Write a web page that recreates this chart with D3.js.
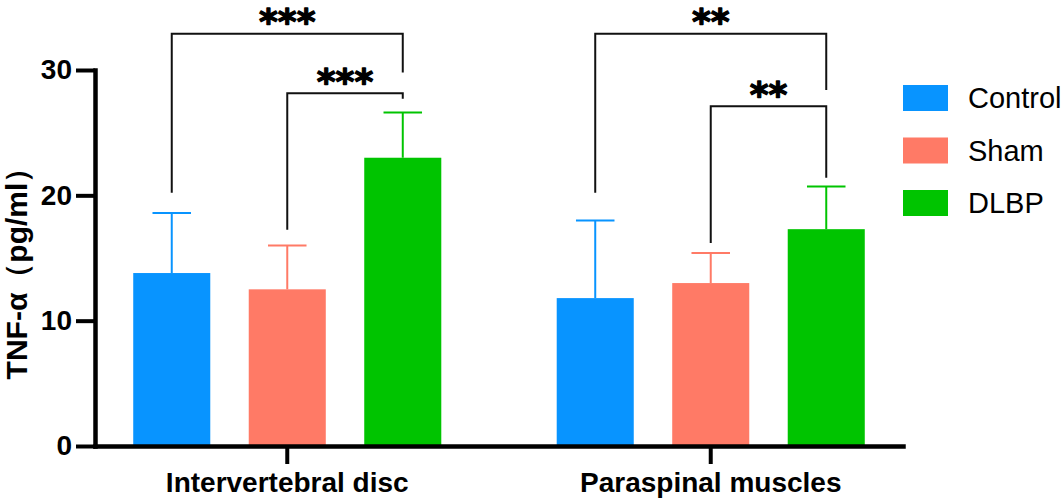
<!DOCTYPE html>
<html>
<head>
<meta charset="utf-8">
<script src="https://cdn.jsdelivr.net/npm/d3@7"></script>
<style>
    body { margin: 0; background: #fff; }
    svg { display: block; font-family: "Liberation Sans", Arial, sans-serif; }
</style>
</head>
<body>
<svg id="chart" width="1063" height="498"></svg>
<script>
// TNF-alpha bar chart, two tissues x three groups

const groups = ['Intervertebral disc', 'Paraspinal muscles'];
const series = ['Control', 'Sham', 'DLBP'];
const colors = ['#0894ff', '#ff7a66', '#00c400'];

// mean and SD per series, one value per group
const controlMean = [13.8, 11.8];
const shamMean = [12.5, 13.0];
const dlbpMean = [23.0, 17.3];
const controlSd = [4.8, 6.2];
const shamSd = [3.5, 2.4];
const dlbpSd = [3.6, 3.4];

const yTicks = [0, 10, 20, 30];

// significance brackets, levels in data units
const brackets = [
    { group: 0, from: 0, to: 2, top: 32.9, fromEnd: 20.2, toEnd: 29.8, label: '***' },
    { group: 0, from: 1, to: 2, top: 28.15, fromEnd: 17.25, toEnd: 27.7, label: '***' },
    { group: 1, from: 0, to: 2, top: 32.9, fromEnd: 20.2, toEnd: 28.4, label: '**' },
    { group: 1, from: 1, to: 2, top: 27.1, fromEnd: 16.2, toEnd: 21.4, label: '**' }
];

const means = [controlMean, shamMean, dlbpMean];
const sds = [controlSd, shamSd, dlbpSd];

const svg = d3.select('#chart');

const x0 = d3.scaleBand()
    .domain(groups)
    .range([95, 903])
    .paddingInner(0.2)
    .paddingOuter(0.054);

const x1 = d3.scaleBand()
    .domain(series)
    .range([0, x0.bandwidth()])
    .paddingInner(0.333)
    .paddingOuter(0.133);

const y = d3.scaleLinear()
    .domain([0, 30])
    .range([446, 70]);

const color = d3.scaleOrdinal().domain(series).range(colors);

// flatten into bar records
const bars = [];
groups.forEach((g, gi) => {
    series.forEach((s, si) => {
        bars.push({ group: g, series: s, mean: means[si][gi], sd: sds[si][gi] });
    });
});

const barX = d => x0(d.group) + x1(d.series);

// bars
svg.append('g')
    .selectAll('rect')
    .data(bars)
    .enter()
    .append('rect')
    .attr('x', barX)
    .attr('y', d => y(d.mean))
    .attr('width', x1.bandwidth())
    .attr('height', d => y(0) - y(d.mean))
    .attr('fill', d => color(d.series));

// error bars (upper only)
const capW = x1.bandwidth() / 2;
const err = svg.append('g')
    .selectAll('g')
    .data(bars)
    .enter()
    .append('g')
    .attr('stroke', d => color(d.series))
    .attr('stroke-width', 2);

err.append('line')
    .attr('x1', d => barX(d) + x1.bandwidth() / 2)
    .attr('x2', d => barX(d) + x1.bandwidth() / 2)
    .attr('y1', d => y(d.mean))
    .attr('y2', d => y(d.mean + d.sd));

err.append('line')
    .attr('x1', d => barX(d) + x1.bandwidth() / 2 - capW / 2)
    .attr('x2', d => barX(d) + x1.bandwidth() / 2 + capW / 2)
    .attr('y1', d => y(d.mean + d.sd))
    .attr('y2', d => y(d.mean + d.sd));

// axes
const yAxis = svg.append('g')
    .attr('transform', 'translate(95,0)')
    .call(d3.axisLeft(y).tickValues(yTicks).tickSize(19).tickSizeOuter(0).tickPadding(4));

const xAxis = svg.append('g')
    .attr('transform', `translate(0,${y(0)})`)
    .call(d3.axisBottom(x0).tickSize(18).tickSizeOuter(0).tickPadding(8));

[yAxis, xAxis].forEach(ax => {
    ax.select('.domain')
        .attr('stroke', '#000')
        .attr('stroke-width', 4.5)
        .attr('stroke-linecap', 'square');
    ax.selectAll('.tick line')
        .attr('stroke', '#000')
        .attr('stroke-width', 4);
    ax.selectAll('.tick text')
        .attr('fill', '#000')
        .attr('font-family', '"Liberation Sans", Arial, sans-serif')
        .attr('font-weight', 'bold');
});
yAxis.selectAll('.tick text').attr('font-size', 28);
xAxis.selectAll('.tick text').attr('font-size', 28);

// y axis title
svg.append('text')
    .attr('transform', 'translate(27,266) rotate(-90)')
    .attr('text-anchor', 'middle')
    .attr('font-size', 30)
    .attr('font-weight', 'bold')
    .attr('fill', '#000')
    .text('TNF-α（pg/ml）');

// significance brackets
const cx = (gi, si) => x0(groups[gi]) + x1(series[si]) + x1.bandwidth() / 2;

const br = svg.append('g');
brackets.forEach(b => {
    const xa = cx(b.group, b.from);
    const xb = cx(b.group, b.to);
    br.append('path')
        .attr('d', `M${xa},${y(b.fromEnd)}V${y(b.top)}H${xb}V${y(b.toEnd)}`)
        .attr('fill', 'none')
        .attr('stroke', '#111')
        .attr('stroke-width', 2);
    br.append('text')
        .attr('x', (xa + xb) / 2)
        .attr('y', y(b.top) + 0.5)
        .attr('text-anchor', 'middle')
        .attr('font-family', '"DejaVu Sans", sans-serif')
        .attr('font-size', 36)
        .attr('font-weight', 'bold')
        .attr('fill', '#000')
        .attr('stroke', '#000')
        .attr('stroke-width', 1.3)
        .attr('stroke-linejoin', 'round')
        .text(b.label);
});

// legend
const legend = svg.append('g')
    .selectAll('g')
    .data(series)
    .enter()
    .append('g')
    .attr('transform', (d, i) => `translate(903,${85 + i * 52.5})`);

legend.append('rect')
    .attr('width', 45)
    .attr('height', 26)
    .attr('fill', d => color(d));

legend.append('text')
    .attr('x', 65)
    .attr('y', 13)
    .attr('dy', '0.36em')
    .attr('font-size', 29)
    .attr('fill', '#000')
    .text(d => d);
</script>
</body>
</html>
